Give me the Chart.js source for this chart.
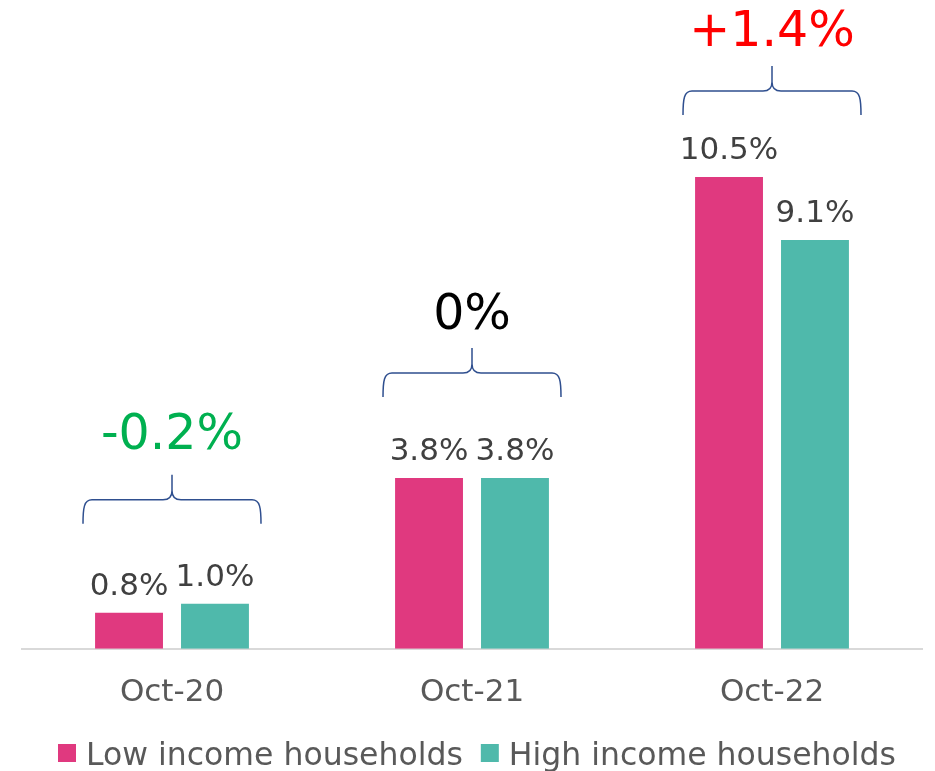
<!DOCTYPE html>
<html>
<head>
<meta charset="utf-8">
<script src="https://cdn.jsdelivr.net/npm/chart.js@4/dist/chart.umd.min.js"></script>
<style>
  body { margin: 0; background: #fff; }
  #wrap { width: 935px; height: 771px; }
</style>
</head>
<body>
<div id="wrap"><canvas id="incomeChart"></canvas></div>
<script>
const months = ['Oct-20', 'Oct-21', 'Oct-22'];
const lowIncome = [0.8, 3.8, 10.5];
const highIncome = [1.0, 3.8, 9.1];
const seriesNames = ['Low income households', 'High income households'];
const seriesColors = ['#E0397F', '#4FB9AB'];

const FONT = 'DejaVu Sans';

// labels over bars, braces and gap labels per group
const overlayPlugin = {
  id: 'overlay',
  afterDatasetsDraw(chart, args, opts) {
    const ctx = chart.ctx;
    const lowMeta = chart.getDatasetMeta(0);
    const highMeta = chart.getDatasetMeta(1);
    ctx.save();
    ctx.font = '31px "' + FONT + '"';
    ctx.fillStyle = '#404040';
    ctx.textAlign = 'center';
    ctx.textBaseline = 'alphabetic';
    [lowMeta, highMeta].forEach(function(meta, d) {
      meta.data.forEach(function(bar, i) {
        const v = chart.data.datasets[d].data[i];
        ctx.fillText(v.toFixed(1) + '%', bar.x, bar.y - 18);
      });
    });

    const xScale = chart.scales.x;
    months.forEach(function(m, i) {
      const xc = xScale.getPixelForValue(i);
      const top = Math.min(lowMeta.data[i].y, highMeta.data[i].y);
      const yb = top - opts.gaps[i];
      const yh = yb - 24;
      const yp = yh - 25;
      const xl = xc - 89, xr = xc + 89, r = 9;
      ctx.beginPath();
      ctx.strokeStyle = '#2F4F8F';
      ctx.lineWidth = 1.5;
      ctx.moveTo(xl, yb);
      ctx.bezierCurveTo(xl, yh + 8, xl + 1, yh, xl + r, yh);
      ctx.lineTo(xc - r, yh);
      ctx.quadraticCurveTo(xc, yh, xc, yh - r);
      ctx.lineTo(xc, yp);
      ctx.moveTo(xc, yh - r);
      ctx.quadraticCurveTo(xc, yh, xc + r, yh);
      ctx.lineTo(xr - r, yh);
      ctx.bezierCurveTo(xr - 1, yh, xr, yh + 8, xr, yb);
      ctx.stroke();

      const diff = Math.round((lowIncome[i] - highIncome[i]) * 10) / 10;
      let txt, col;
      if (diff > 0) { txt = '+' + diff.toFixed(1) + '%'; col = '#FF0000'; }
      else if (diff < 0) { txt = diff.toFixed(1) + '%'; col = '#00B050'; }
      else { txt = '0%'; col = '#000000'; }
      ctx.font = '49px "' + FONT + '"';
      ctx.fillStyle = col;
      ctx.fillText(txt, xc, yp - opts.textGaps[i]);
    });
    ctx.restore();
  }
};

// legend drawn by hand so box/text spacing matches
const legendPlugin = {
  id: 'bottomLegend',
  afterDraw(chart, args, opts) {
    const ctx = chart.ctx;
    ctx.save();
    ctx.font = opts.size + 'px "' + FONT + '"';
    ctx.textBaseline = 'alphabetic';
    ctx.textAlign = 'left';
    const widths = seriesNames.map(function(n) { return ctx.measureText(n).width; });
    const total = widths[0] + widths[1] + 2 * (opts.box + opts.boxGap) + opts.itemGap;
    const area = chart.chartArea;
    let x = (area.left + area.right) / 2 + opts.shift - total / 2;
    seriesNames.forEach(function(name, i) {
      ctx.fillStyle = seriesColors[i];
      ctx.fillRect(x, opts.baseline - 21, opts.box, opts.box);
      x += opts.box + opts.boxGap;
      ctx.fillStyle = '#595959';
      ctx.fillText(name, x, opts.baseline);
      x += widths[i] + opts.itemGap;
    });
    ctx.restore();
  }
};

new Chart(document.getElementById('incomeChart'), {
  type: 'bar',
  data: {
    labels: months,
    datasets: [{
      label: seriesNames[0],
      data: lowIncome,
      backgroundColor: seriesColors[0],
      categoryPercentage: 0.573,
      barPercentage: 0.79
    }, {
      label: seriesNames[1],
      data: highIncome,
      backgroundColor: seriesColors[1],
      categoryPercentage: 0.573,
      barPercentage: 0.79
    }]
  },
  options: {
    responsive: true,
    maintainAspectRatio: false,
    animation: false,
    layout: { padding: { left: 22, right: 13, top: 0, bottom: 41 } },
    scales: {
      x: {
        grid: { display: false },
        border: { display: true, color: '#D9D9D9', width: 2 },
        ticks: { color: '#595959', font: { family: FONT, size: 31 }, padding: 18 }
      },
      y: {
        display: false,
        min: 0,
        max: 14.44
      }
    },
    plugins: {
      legend: { display: false },
      tooltip: { enabled: false },
      overlay: { gaps: [80, 81, 62], textGaps: [26, 19, 20] },
      bottomLegend: { size: 31.5, box: 18, boxGap: 10, itemGap: 18, baseline: 765, shift: 5 }
    }
  },
  plugins: [overlayPlugin, legendPlugin]
});
</script>
</body>
</html>
